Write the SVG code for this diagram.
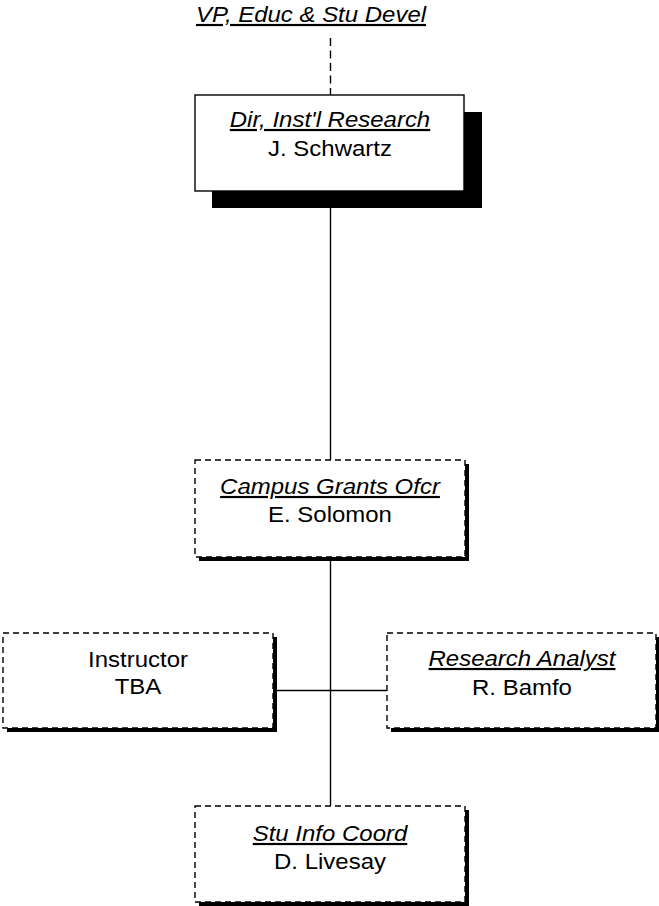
<svg xmlns="http://www.w3.org/2000/svg" width="659" height="906" viewBox="0 0 659 906">
<style>
  text { font-family: "Liberation Sans", Arial, sans-serif; font-size: 22px; fill: #000; }
  .title { font-style: italic; text-decoration: underline; }
  .box { fill: #fff; stroke: #000; stroke-width: 1.4; }
  .dashed { stroke-dasharray: 6 4; }
  .shadow { fill: #000; stroke: none; }
  .conn { stroke: #000; stroke-width: 1.4; fill: none; }
</style>
<rect width="659" height="906" fill="#fff"/>
<g id="connectors">
  <path class="conn" d="M330.5 38 V95" stroke-dasharray="8 4.5"/>
  <path class="conn" d="M330.5 191 V460"/>
  <path class="conn" d="M330.5 557 V806"/>
  <path class="conn" d="M273 690.5 H387"/>
</g>
<g id="vp">
  <text class="title" transform="translate(196 22) scale(1.09 1)" x="0" y="0">VP, Educ &amp; Stu Devel</text>
</g>
<g id="dir">
  <rect class="shadow" x="212" y="112" width="270" height="96"/>
  <rect class="box" x="195" y="95" width="269" height="96"/>
  <text class="title" transform="translate(330 127) scale(1.09 1)" x="0" y="0" text-anchor="middle">Dir, Inst'l Research</text>
  <text transform="translate(330 156) scale(1.09 1)" x="0" y="0" text-anchor="middle">J. Schwartz</text>
</g>
<g id="campus">
  <rect class="shadow" x="199" y="464" width="270" height="97"/>
  <rect class="box dashed" x="195" y="460" width="270" height="97"/>
  <text class="title" transform="translate(330 494) scale(1.09 1)" x="0" y="0" text-anchor="middle">Campus Grants Ofcr</text>
  <text transform="translate(330 522) scale(1.09 1)" x="0" y="0" text-anchor="middle">E. Solomon</text>
</g>
<g id="instructor">
  <rect class="shadow" x="7" y="637" width="270" height="95"/>
  <rect class="box dashed" x="3" y="633" width="270" height="95"/>
  <text transform="translate(138 667) scale(1.09 1)" x="0" y="0" text-anchor="middle">Instructor</text>
  <text transform="translate(138 694) scale(1.09 1)" x="0" y="0" text-anchor="middle">TBA</text>
</g>
<g id="analyst">
  <rect class="shadow" x="391" y="637" width="270" height="95"/>
  <rect class="box dashed" x="387" y="633" width="269" height="95"/>
  <text class="title" transform="translate(522 666) scale(1.09 1)" x="0" y="0" text-anchor="middle">Research Analyst</text>
  <text transform="translate(522 695) scale(1.09 1)" x="0" y="0" text-anchor="middle">R. Bamfo</text>
</g>
<g id="stuinfo">
  <rect class="shadow" x="199" y="810" width="270" height="96"/>
  <rect class="box dashed" x="195" y="806" width="270" height="96"/>
  <text class="title" transform="translate(330 841) scale(1.09 1)" x="0" y="0" text-anchor="middle">Stu Info Coord</text>
  <text transform="translate(330 869) scale(1.09 1)" x="0" y="0" text-anchor="middle">D. Livesay</text>
</g>
</svg>
